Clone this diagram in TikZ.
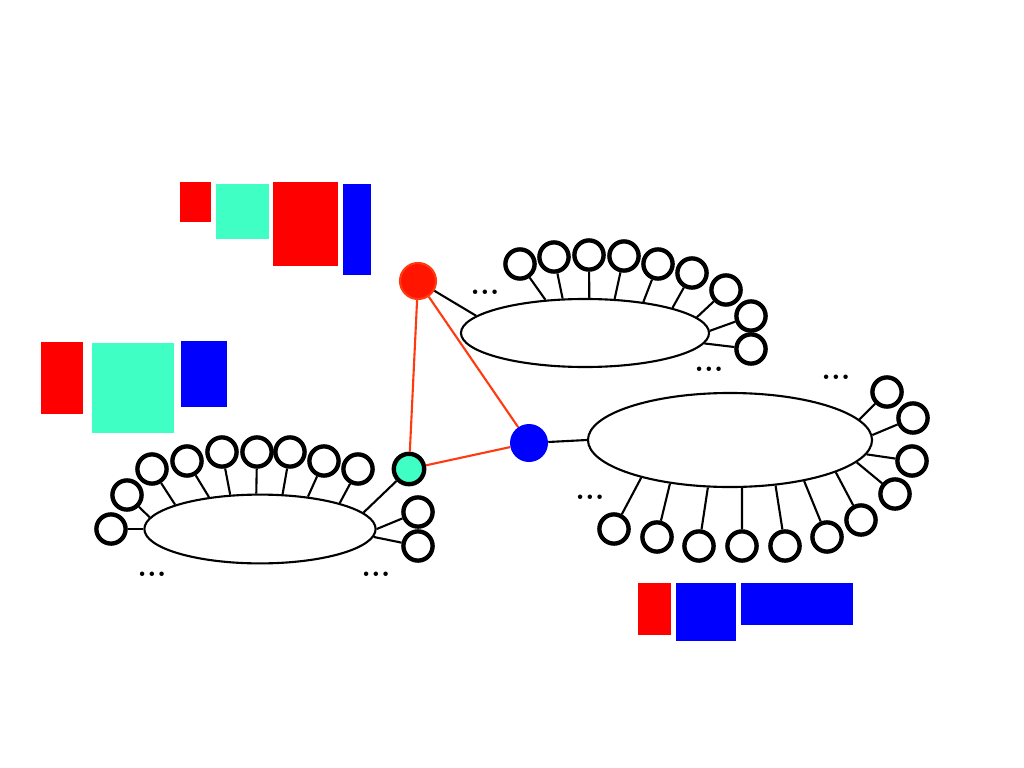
\documentclass[tikz,border=0pt]{standalone}
\usetikzlibrary{shapes.geometric}
\definecolor{aqua}{HTML}{40FFC4}
\definecolor{linkred}{HTML}{FF3A10}
\definecolor{hubred}{HTML}{FF1500}
\begin{document}
\begin{tikzpicture}[x=0.025cm,y=-0.025cm,
  leaf/.style={draw, circle, line width=3.1pt, minimum size=0.73cm, inner sep=0pt},
  group/.style={draw, ellipse, line width=1.5pt, inner sep=0pt},
  spoke/.style={line width=1.5pt},
  link/.style={linkred, line width=1.5pt},
  etc/.style={font=\fontsize{22}{22}\selectfont\bfseries, inner sep=0pt}]
\useasboundingbox (0,0) rectangle (1024,768);
% bars
\fill[red] (180,182) rectangle (211,222);
\fill[aqua] (216,184) rectangle (269,239);
\fill[red] (273,182) rectangle (338,266);
\fill[blue] (343,184) rectangle (371,275);
\fill[red] (41,342) rectangle (83,414);
\fill[aqua] (92,343) rectangle (174,433);
\fill[blue] (181,341) rectangle (227,407);
\fill[red] (638,583) rectangle (671,635);
\fill[blue] (676,583) rectangle (736,641);
\fill[blue] (741,583) rectangle (853,625);
% groups
\node[group, minimum width=6.2cm, minimum height=1.7cm] (upper) at (585,333) {};
\node[group, minimum width=5.78cm, minimum height=1.72cm] (lower) at (260,529) {};
\node[group, minimum width=7.1cm, minimum height=2.35cm] (right) at (730,440) {};
% hubs
\node[circle, fill=hubred, draw=linkred, line width=1.5pt, minimum size=0.9cm, inner sep=0pt] (r) at (418,281) {};
\node[leaf, fill=aqua, minimum size=0.76cm] (a) at (409,469) {};
\node[circle, fill=blue, minimum size=0.95cm, inner sep=0pt] (b) at (529,443) {};
\draw[link] (r) -- (a);
\draw[link] (r) -- (b);
\draw[link] (a) -- (b);
\draw[spoke] (r) -- (upper.171);
\draw[spoke] (b) -- (right.180);
\draw[spoke] (a) -- (lower.9);
% upper leaves
\node[leaf] (u1) at (520,264) {};
\node[leaf] (u2) at (554,257) {};
\node[leaf] (u3) at (589,255) {};
\node[leaf] (u4) at (624,256) {};
\node[leaf] (u5) at (658,264) {};
\node[leaf] (u6) at (692,273) {};
\node[leaf] (u7) at (726,290) {};
\node[leaf] (u8) at (751,316) {};
\node[leaf] (u9) at (751,349) {};
\draw[spoke] (u1) -- (upper.140);
\draw[spoke] (u2) -- (upper.123);
\draw[spoke] (u3) -- (upper.83);
\draw[spoke] (u4) -- (upper.49);
\draw[spoke] (u5) -- (upper.28);
\draw[spoke] (u6) -- (upper.16);
\draw[spoke] (u7) -- (upper.8);
\draw[spoke] (u8) -- (upper.1);
\draw[spoke] (u9) -- (upper.-5);
% lower leaves
\node[leaf] (l1) at (111,529) {};
\node[leaf] (l2) at (127,495) {};
\node[leaf] (l3) at (152,469) {};
\node[leaf] (l4) at (187,461) {};
\node[leaf] (l5) at (222,452) {};
\node[leaf] (l6) at (257,452) {};
\node[leaf] (l7) at (290,452) {};
\node[leaf] (l8) at (324,461) {};
\node[leaf] (l9) at (358,469) {};
\node[leaf] (l10) at (418,512) {};
\node[leaf] (l11) at (418,546) {};
\draw[spoke] (l1) -- (lower.180);
\draw[spoke] (l2) -- (lower.174);
\draw[spoke] (l3) -- (lower.164);
\draw[spoke] (l4) -- (lower.148);
\draw[spoke] (l5) -- (lower.131);
\draw[spoke] (l6) -- (lower.96);
\draw[spoke] (l7) -- (lower.57);
\draw[spoke] (l8) -- (lower.34);
\draw[spoke] (l9) -- (lower.18);
\draw[spoke] (l10) -- (lower.0);
\draw[spoke] (l11) -- (lower.-4);
% right leaves
\node[leaf] (s1) at (887,392) {};
\node[leaf] (s2) at (913,418) {};
\node[leaf] (s3) at (912,461) {};
\node[leaf] (s4) at (895,494) {};
\node[leaf] (s5) at (861,520) {};
\node[leaf] (s6) at (827,537) {};
\node[leaf] (s7) at (785,546) {};
\node[leaf] (s8) at (742,546) {};
\node[leaf] (s9) at (699,546) {};
\node[leaf] (s10) at (657,537) {};
\node[leaf] (s11) at (614,529) {};
\draw[spoke] (s1) -- (right.9);
\draw[spoke] (s2) -- (right.2);
\draw[spoke] (s3) -- (right.-6);
\draw[spoke] (s4) -- (right.-10);
\draw[spoke] (s5) -- (right.-17);
\draw[spoke] (s6) -- (right.-29);
\draw[spoke] (s7) -- (right.-45);
\draw[spoke] (s8) -- (right.-76);
\draw[spoke] (s9) -- (right.-115);
\draw[spoke] (s10) -- (right.-144);
\draw[spoke] (s11) -- (right.-157);
% elisions
\node[etc] (e1) at (485,292) {...};
\node[etc] (e2) at (709,369) {...};
\node[etc] (e3) at (152,574) {...};
\node[etc] (e4) at (376,574) {...};
\node[etc] (e5) at (836,377) {...};
\node[etc] (e6) at (590,497) {...};
\end{tikzpicture}
\end{document}
